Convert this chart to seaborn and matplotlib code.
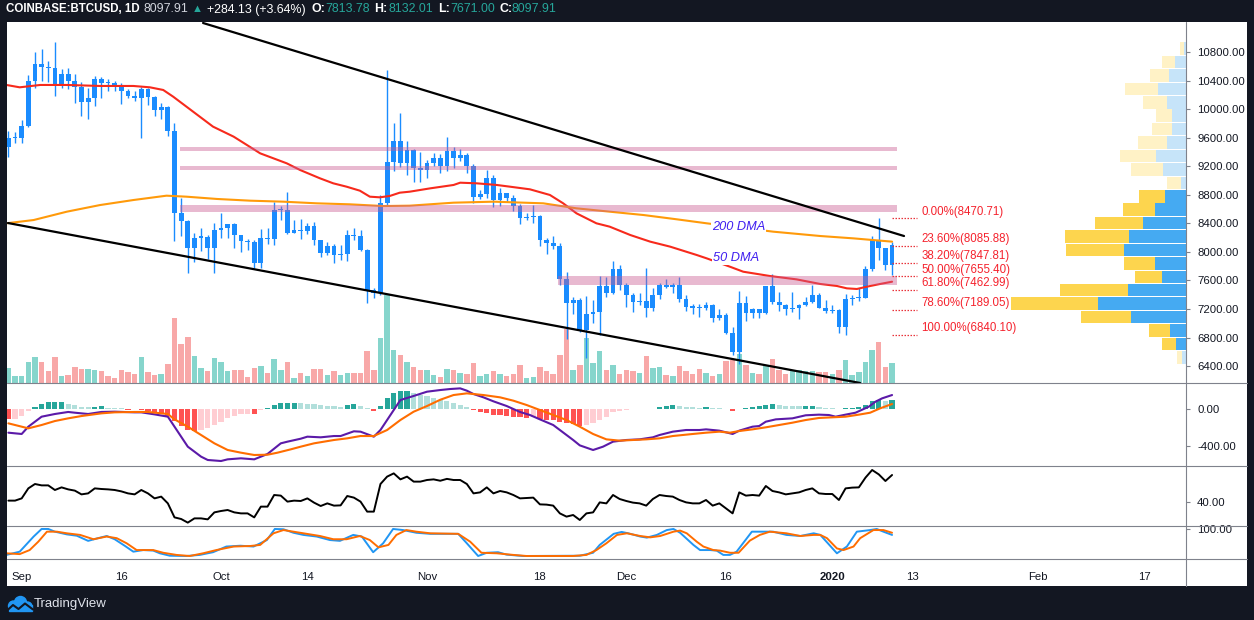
import numpy as np
import pandas as pd
import matplotlib
matplotlib.use('Agg')
import matplotlib.pyplot as plt
import seaborn as sns
from matplotlib.lines import Line2D
from matplotlib.patches import Rectangle, Circle

sns.set_style('white')
plt.rcParams['font.family'] = ['Liberation Sans', 'DejaVu Sans']

# ---------------- data ----------------
dates = pd.date_range('2019-08-30', '2020-01-10', freq='D')
ref = pd.Timestamp('2019-09-01')

opens = [9470, 9590, 9600, 9770, 10390, 10630, 10590, 10580, 10320, 10490,
         10400, 10310, 10100, 10160, 10420, 10370, 10360, 10310, 10260, 10190,
         10160, 10280, 10170, 9990, 10030, 9700, 8540, 8430, 8060, 8200,
         8210, 8050, 8300, 8330, 8390, 8230, 8150, 8140, 7850, 8200,
         8180, 8590, 8590, 8270, 8300, 8290, 8360, 8160, 7990, 8080,
         7950, 7970, 8230, 8220, 8020, 7470, 7420, 8680, 9260, 9550,
         9240, 9430, 9180, 9150, 9250, 9310, 9200, 9410, 9320, 9350,
         9200, 8770, 8810, 9030, 8720, 8820, 8760, 8640, 8470, 8490,
         8500, 8170, 8120, 8080, 7620, 7280, 7330, 6900, 7130, 7160,
         7520, 7420, 7760, 7540, 7400, 7300, 7310, 7210, 7400, 7540,
         7510, 7530, 7340, 7230, 7220, 7210, 7260, 7070, 7110, 6870,
         6600, 7280, 7150, 7200, 7150, 7520, 7300, 7260, 7200, 7210,
         7250, 7300, 7390, 7220, 7170, 7180, 6950, 7340, 7350, 7360,
         7760, 8160, 8050, 7813.78]
highs = [9700, 9680, 9850, 10480, 10800, 10840, 10670, 10940, 10560, 10570,
         10490, 10380, 10290, 10460, 10450, 10420, 10390, 10360, 10280, 10250,
         10310, 10300, 10180, 10090, 10050, 9800, 8750, 8450, 8270, 8340,
         8230, 8400, 8540, 8390, 8400, 8240, 8180, 8170, 8320, 8330,
         8700, 8640, 8840, 8440, 8460, 8400, 8420, 8170, 8140, 8110,
         8100, 8300, 8330, 8310, 8040, 7500, 8800, 10550, 9800, 9940,
         9560, 9440, 9400, 9290, 9380, 9370, 9610, 9470, 9440, 9380,
         9230, 8860, 9140, 9070, 8890, 8830, 8790, 8670, 8540, 8650,
         8510, 8200, 8220, 8130, 7720, 7370, 7350, 7380, 7330, 7660,
         7650, 7870, 7820, 7560, 7420, 7420, 7770, 7490, 7560, 7620,
         7570, 7650, 7400, 7270, 7270, 7300, 7270, 7200, 7150, 6950,
         7450, 7380, 7220, 7200, 7520, 7690, 7440, 7270, 7440, 7270,
         7370, 7530, 7420, 7320, 7260, 7200, 7410, 7400, 7500, 7800,
         8220, 8470, 8060, 8132.01]
lows = [9330, 9520, 9520, 9750, 10300, 10400, 10380, 10180, 10300, 10280,
        10080, 9910, 9860, 10050, 10160, 10250, 10260, 10070, 10150, 10120,
        9600, 10060, 9910, 9860, 9620, 8150, 8220, 7710, 7860, 8010,
        7900, 7700, 8200, 8190, 8060, 8000, 8020, 7780, 7770, 8110,
        8100, 8450, 8250, 8260, 8180, 8250, 8100, 7930, 7950, 7850,
        7880, 7870, 8170, 8010, 7290, 7360, 7390, 8650, 9130, 9190,
        9080, 8980, 8980, 9030, 9200, 9100, 9130, 9180, 9270, 9100,
        8680, 8740, 8760, 8630, 8640, 8700, 8570, 8390, 8440, 8400,
        8080, 7970, 8040, 7540, 6780, 7130, 6880, 6520, 7010, 6840,
        7370, 7410, 7460, 7230, 7160, 7250, 7090, 7170, 7340, 7490,
        7420, 7300, 7170, 7130, 7090, 7180, 7020, 7040, 6850, 6560,
        6430, 7030, 7080, 7080, 7130, 7270, 7170, 7120, 7160, 7060,
        7240, 7290, 7210, 7150, 7150, 6870, 6840, 7260, 7310, 7350,
        7730, 7890, 7740, 7671.00]
closes = [9590, 9600, 9770, 10390, 10630, 10590, 10580, 10320, 10490, 10400,
          10310, 10100, 10160, 10420, 10370, 10360, 10310, 10260, 10190, 10160,
          10280, 10170, 9990, 10030, 9700, 8540, 8430, 8060, 8200, 8210,
          8050, 8300, 8330, 8390, 8230, 8150, 8140, 7850, 8200, 8180,
          8590, 8590, 8270, 8300, 8290, 8360, 8160, 7990, 8080, 7950,
          7970, 8230, 8220, 8020, 7470, 7420, 8680, 9260, 9550, 9240,
          9430, 9180, 9150, 9250, 9310, 9200, 9410, 9320, 9350, 9200,
          8770, 8810, 9030, 8720, 8820, 8760, 8640, 8470, 8490, 8500,
          8170, 8120, 8080, 7620, 7280, 7330, 6900, 7130, 7160, 7520,
          7420, 7760, 7540, 7400, 7300, 7310, 7210, 7400, 7540, 7510,
          7530, 7340, 7230, 7220, 7210, 7260, 7070, 7110, 6870, 6600,
          7280, 7150, 7200, 7150, 7520, 7300, 7260, 7200, 7210, 7250,
          7300, 7390, 7220, 7170, 7180, 6950, 7340, 7350, 7360, 7760,
          8160, 8050, 7810, 8097.91]
# volume bar heights (relative units)
volume = [15, 7, 7, 21, 26, 21, 12, 26, 7, 8,
          16, 14, 14, 13, 12, 7, 5, 13, 11, 9,
          26, 11, 8, 9, 19, 65, 39, 46, 27, 15,
          12, 25, 21, 12, 13, 13, 6, 15, 17, 10,
          24, 13, 21, 5, 10, 7, 14, 14, 8, 12,
          8, 10, 10, 10, 32, 13, 45, 88, 33, 28,
          21, 16, 13, 13, 8, 6, 14, 13, 10, 9,
          20, 7, 9, 12, 9, 7, 9, 18, 5, 6,
          16, 12, 9, 28, 54, 13, 18, 45, 20, 32,
          13, 18, 9, 13, 12, 10, 27, 15, 16, 8,
          7, 17, 12, 9, 14, 10, 7, 9, 22, 23,
          29, 18, 10, 9, 17, 24, 13, 9, 13, 13,
          12, 12, 11, 11, 9, 13, 23, 8, 11, 21,
          33, 41, 16, 20]

# moving averages (day offset from Sep 1, value)
ma50_day = [-2.3, -0.3, 2.8, 6.8, 11.8, 16.8, 19.3, 21.3, 22.8, 24.8,
            26.8, 28.8, 31.9, 33.9, 35.9, 37.9, 39.9, 41.9, 44.9, 46.9,
            48.9, 50.9, 52.4, 53.9, 55.4, 56.9, 58.4, 61.5, 65.0, 66.0,
            68.5, 71.5, 73.5, 76.5, 79.5, 81.5, 83.5, 86.5, 88.5, 91.6,
            94.6, 97.6, 101.6, 103.1, 106.6, 108.6, 112.6, 116.6, 120.2, 122.7,
            124.2, 125.7, 127.2, 129.2, 131.0]
ma50 = [10338, 10305, 10338, 10338, 10324, 10324, 10305, 10268, 10174, 10034,
        9894, 9754, 9614, 9497, 9380, 9310, 9240, 9147, 9030, 8960,
        8913, 8857, 8773, 8764, 8783, 8829, 8843, 8890, 8937, 8969,
        8960, 8937, 8913, 8876, 8797, 8680, 8540, 8400, 8353, 8236,
        8143, 8073, 7956, 7909, 7792, 7722, 7662, 7615, 7550, 7522,
        7489, 7480, 7512, 7550, 7582]
ma200_day = [-2.3, 1.8, 6.8, 11.8, 16.8, 21.8, 24.8, 29.4, 34.4, 39.4,
             44.4, 49.4, 54.4, 58.4, 65.0, 71.0, 78.5, 83.5, 88.5, 93.6,
             98.6, 103.1, 113.1, 120.2, 125.2, 131.0]
ma200 = [8400, 8446, 8563, 8656, 8726, 8787, 8773, 8741, 8717, 8703,
         8680, 8666, 8642, 8647, 8689, 8703, 8680, 8610, 8563, 8516,
         8456, 8400, 8283, 8222, 8189, 8143]

# horizontal zones and trendlines
band_lo = [9413, 9147, 8558, 7536]
band_hi = [9469, 9203, 8656, 7662]
band_start = [23.8, 23.8, 23.8, 80.7]
band_end = 131.7
upper_tl = ([27.3, 132.8], [11206, 8222])
lower_tl = ([-2.06, 126.2], [8404, 6163])

# fibonacci retracement
fib_pct = ['0.00%', '23.60%', '38.20%', '50.00%', '61.80%', '78.60%', '100.00%']
fib_lvl = [8470.71, 8085.88, 7847.81, 7655.40, 7462.99, 7189.05, 6840.10]

# volume profile rows
prof_mid = [6523, 6711, 6899, 7087, 7275, 7463, 7651, 7839, 8027, 8215, 8403, 8591,
            8779, 8967, 9155, 9343, 9531, 9719, 9907, 10095, 10283, 10471, 10659, 10847]
prof_up = [4, 10, 16, 55, 88, 58, 24, 31, 62, 57, 43, 31, 21, 5, 23, 30, 19, 14, 14, 19, 28, 17, 11, 2]
prof_down = [5, 14, 21, 50, 87, 68, 27, 31, 58, 64, 48, 32, 26, 14, 32, 36, 29, 20, 16, 24, 33, 19, 13, 4]
value_area = (1, 12)

# MACD
macd_day = [-2, 0, 1, 3, 5, 7, 8, 10, 12, 14, 17, 18, 20, 22, 23, 25, 27, 28, 30, 31,
            33, 35, 37, 39, 40, 42, 43, 45, 47, 48, 50, 51, 53, 54, 56, 57, 59, 61, 63, 64.5,
            66, 67, 68, 69.5, 71, 73, 75, 76.5, 78, 80, 82, 83, 84, 86, 87.5, 89, 91, 93, 95, 96,
            98, 100, 102, 103, 105, 107, 108, 110, 111, 112, 113.5, 116, 118, 120, 121.5, 122.5,
            124, 125.5, 127.5, 128.5, 129.5, 131]
macd = [-256, -270, -191, -83, -54, -32, -40, -54, -32, -29, -36, -36, -58, -83, -191, -407,
        -515, -551, -562, -544, -533, -544, -486, -371, -353, -321, -299, -306, -292, -292,
        -241, -245, -299, -227, -11, 97, 141, 187, 205, 216, 223, 198, 162, 126, 83, 32, -32,
        -65, -112, -173, -281, -335, -393, -443, -407, -353, -335, -328, -306, -281, -245,
        -227, -227, -220, -234, -270, -234, -191, -184, -137, -112, -101, -68, -61, -65, -83,
        -61, -40, 25, 79, 115, 151]
sig_day = [-2, 0, 1, 3, 5, 7, 9, 12, 14, 17, 19, 22, 23, 25, 27, 29, 31, 33, 35, 37,
           38.5, 40.5, 42, 44, 45.5, 47, 49, 51, 53, 55, 57, 59, 61, 63, 65, 67, 69.5, 72, 74, 76,
           78, 80, 82, 84, 86, 88, 90, 92, 94, 96, 98, 101, 103, 105, 106.6, 108, 110, 112, 114, 116,
           118, 120, 122, 124, 126, 127.7, 129.2, 131]
signal = [-155, -191, -209, -173, -130, -101, -76, -47, -36, -32, -32, -54, -112, -191, -281,
          -371, -443, -472, -497, -494, -472, -436, -407, -371, -353, -335, -317, -292, -292,
          -227, -119, -29, 32, 100, 151, 169, 151, 126, 90, 43, -11, -65, -119, -191, -270,
          -328, -342, -335, -328, -317, -292, -270, -256, -245, -256, -238, -220, -198, -173,
          -148, -119, -97, -90, -83, -61, -40, 7, 54]
hist = [-108, -105, -79, -25, 22, 58, 72, 74, 76, 58,
        43, 22, 18, 22, 29, 14, 12, 7, -7, -4,
        -7, -25, -36, -43, -72, -133, -187, -231, -240, -223,
        -205, -169, -144, -97, -72, -58, -50, -55, -14, 7,
        47, 65, 68, 70, 65, 58, 50, 43, 36, 29,
        27, 43, 50, 29, 7, -22, 36, 119, 173, 191,
        198, 173, 155, 137, 119, 101, 85, 60, 40, 20,
        -7, -36, -43, -61, -68, -76, -83, -90, -92, -90,
        -112, -114, -119, -137, -155, -162, -180, -175, -155, -119,
        -83, -36, -22, -8, -3, 2, 3, 5, 25, 32,
        43, 32, 25, 18, 16, 22, 14, 7, -2, -25,
        -3, 11, 18, 32, 43, 54, 43, 32, 30, 28,
        32, 36, 18, 11, 7, -2, 7, 11, 25, 43,
        90, 94, 90, 97]

# RSI
rsi = [41.1, 41.1, 42.9, 50.9, 54.4, 53.3, 53.3, 49.6, 51.7, 50.1,
       49.1, 46.1, 46.9, 50.9, 50.4, 50.1, 49.6, 48.5, 46.9, 46.1,
       49.6, 46.9, 42.9, 44.3, 38.9, 27.7, 26.4, 23.5, 26.9, 26.9,
       26.1, 31.7, 32.8, 33.6, 31.7, 30.9, 30.9, 27.7, 36.3, 36.3,
       45.6, 45.1, 40.3, 41.1, 40.8, 42.9, 39.5, 36.8, 38.9, 37.1,
       37.3, 44.8, 43.5, 40.3, 32.3, 32.3, 54.4, 60.3, 62.9, 58.1,
       60.3, 56.3, 56.3, 57.6, 58.1, 57.0, 58.5, 57.6, 57.6, 54.4,
       46.9, 47.7, 51.7, 46.9, 48.8, 47.7, 45.6, 42.9, 43.2, 43.5,
       38.1, 37.9, 37.1, 30.9, 28.3, 29.6, 25.6, 30.9, 31.7, 39.7,
       38.9, 45.6, 42.4, 40.8, 39.5, 38.9, 37.1, 42.4, 45.6, 44.8,
       44.3, 41.6, 39.7, 38.9, 38.9, 41.6, 37.1, 38.9, 34.9, 30.9,
       47.7, 45.1, 45.6, 45.1, 52.8, 48.8, 47.7, 46.1, 46.9, 47.7,
       49.6, 50.9, 46.9, 46.4, 46.4, 41.6, 50.9, 51.5, 51.7, 59.5,
       65.6, 62.1, 56.8, 61.6]

# Stochastic RSI
k_day = [-2.3, -0.3, 1.8, 3.0, 4.0, 5.0, 6.8, 8.3, 10.0, 11.5, 12.8, 14.0, 15.5, 16.8, 18.3,
         19.8, 20.8, 22.3, 24.8, 26.8, 28.8, 30.8, 32.9, 34.9, 36.9, 38.1, 39.4, 40.9, 42.4, 44.4,
         46.4, 47.9, 49.9, 51.2, 52.9, 54.4, 55.9, 57.4, 59.4, 61.5, 65.7, 67.0, 68.7, 70.0, 71.7,
         73.0, 75.5, 84.0, 86.0, 87.0, 89.1, 90.3, 91.3, 93.1, 94.1, 95.6, 97.1, 98.1, 99.1, 101.1,
         102.1, 103.6, 104.6, 105.6, 106.6, 107.6, 109.9, 113.1, 115.1, 117.2, 119.2, 120.2, 122.7,
         124.2, 125.7, 127.7, 128.7, 129.7, 131.0]
k_val = [4, 16, 72, 100, 100, 90, 80, 75, 56, 66, 74, 62, 38, 16, 22, 20, 10, 1, 0, 4,
         14, 35, 38, 35, 59, 100, 99, 86, 78, 72, 59, 56, 78, 72, 14, 47, 100, 96, 86, 82,
         82, 47, 0, 12, 14, 5, 0, 1, 12, 41, 82, 89, 84, 72, 68, 78, 96, 100, 86, 41,
         22, 22, 20, 4, 4, 16, 90, 90, 78, 74, 84, 78, 10, 35, 90, 96, 100, 90, 78]
d_day = [-2.3, -0.3, 1.2, 2.5, 3.8, 5.3, 6.8, 8.8, 10.8, 12.8, 14.3, 15.8, 17.3, 19.8, 21.3,
         23.3, 25.3, 27.3, 29.3, 31.9, 34.4, 35.9, 37.9, 39.4, 40.9, 42.9, 44.9, 46.9, 48.9, 50.9,
         52.4, 53.7, 55.2, 56.4, 57.9, 59.4, 61.5, 65.7, 67.5, 69.2, 71.5, 74.0, 76.0, 83.0, 85.0,
         86.5, 88.0, 89.6, 91.1, 93.1, 94.6, 96.1, 98.1, 99.1, 100.1, 101.6, 102.6, 104.1, 105.1,
         106.6, 107.9, 109.6, 111.1, 112.6, 115.1, 117.2, 119.2, 120.2, 121.2, 122.7, 123.7,
         125.2, 126.2, 128.2, 129.7, 131.0]
d_val = [10, 7, 22, 53, 90, 90, 84, 78, 62, 72, 66, 47, 22, 22, 12, 4, 0, 10, 22, 35,
         37, 41, 84, 96, 90, 82, 74, 62, 62, 74, 59, 32, 41, 78, 96, 90, 84, 82, 53, 12,
         10, 4, 0, 0, 4, 22, 47, 78, 84, 74, 69, 74, 90, 94, 84, 53, 35, 22, 20, 12,
         12, 57, 78, 90, 84, 74, 78, 78, 66, 28, 22, 35, 66, 96, 96, 86]

price_ticks = [6400, 6800, 7200, 7600, 8000, 8400, 8800, 9200, 9600, 10000, 10400, 10800]
tick_dates = ['2019-09-01', '2019-09-16', '2019-10-01', '2019-10-14', '2019-11-01', '2019-11-18',
              '2019-12-01', '2019-12-16', '2020-01-01', '2020-01-13', '2020-02-01', '2020-02-17']
tick_labels = ['Sep', '16', 'Oct', '14', 'Nov', '18', 'Dec', '16', '2020', '13', 'Feb', '17']

# ---------------- styling ----------------
BG = '#131722'
CANDLE = '#1a8cff'
UPVOL, DNVOL = '#86d5cc', '#f8a8a8'
GRAYLINE = '#7f828c'
TXT = '#131722'
W, H = 1254, 620
XL = (-2.21, 175.24)


def box(l, t, r, b):
    return [l / W, 1 - b / H, (r - l) / W, (b - t) / H]


def clean(a):
    for s in a.spines.values():
        s.set_visible(False)
    a.set_xlabel('')
    a.set_ylabel('')


def right_axis(a, ticks, labels):
    a.yaxis.tick_right()
    a.set_yticks(ticks)
    a.set_yticklabels(labels)
    a.tick_params(axis='y', length=3, width=0.8, color=GRAYLINE, pad=5,
                  labelsize=8.2, labelcolor=TXT)


x = np.asarray((dates - ref).days, dtype=float)
o, h, l, c = map(np.asarray, (opens, highs, lows, closes))

fig = plt.figure(figsize=(12.54, 6.2), dpi=100, facecolor=BG)
fig.add_artist(Rectangle((7 / W, 1 - 586 / H), 1240 / W, 564 / H, transform=fig.transFigure,
                         facecolor='white', edgecolor='none', zorder=-10))

# volume (behind price)
ax_vol = fig.add_axes(box(7, 22, 1186, 383))
ax_vol.bar(x, volume, width=0.82, color=[UPVOL if cc >= oo else DNVOL for oo, cc in zip(o, c)],
           linewidth=0)
ax_vol.set_xlim(XL)
ax_vol.set_ylim(0, 361)
ax_vol.axis('off')

# price panel
ax = fig.add_axes(box(7, 22, 1186, 383))
ax.patch.set_alpha(0)
ax.vlines(x, l, h, color=CANDLE, linewidth=1.0, zorder=3)
body = np.maximum(np.abs(c - o), 16)
ax.bar(x, body, bottom=np.minimum(o, c), width=0.72, color=CANDLE, linewidth=0, zorder=3)

sns.lineplot(x=ma50_day, y=ma50, ax=ax, color='#f72a1c', linewidth=1.5, zorder=4)
sns.lineplot(x=ma200_day, y=ma200, ax=ax, color='#ff9a0a', linewidth=1.5, zorder=4)

for lo, hi, s in zip(band_lo, band_hi, band_start):
    ax.add_patch(Rectangle((s, lo), band_end - s, hi - lo, facecolor='#c95a91',
                           alpha=0.42, edgecolor='none', zorder=5))

sns.lineplot(x=upper_tl[0], y=upper_tl[1], ax=ax, color='black', linewidth=1.6, zorder=6)
sns.lineplot(x=lower_tl[0], y=lower_tl[1], ax=ax, color='black', linewidth=1.6, zorder=6)

ax.hlines(fib_lvl, 131, 134.75, colors='#e8333a', linestyles=(0, (1.2, 1.2)), linewidth=0.9, zorder=6)
for p, v in zip(fib_pct, fib_lvl):
    ax.text(135.45, v + 10, f'{p}({v:.2f})', color='#f5222d', fontsize=8.3,
            ha='left', va='bottom', zorder=7)

ax.text(103.9, 8348, '200 DMA', color='#3f1ef0', fontsize=9.2, style='italic', ha='left',
        va='center', zorder=7, bbox=dict(facecolor='white', edgecolor='none', pad=0.8))
ax.text(104.0, 7914, '50 DMA', color='#3f1ef0', fontsize=9.2, style='italic', ha='left',
        va='center', zorder=7, bbox=dict(facecolor='white', edgecolor='none', pad=0.8))

ax.set_xlim(XL)
ax.set_ylim(6163, 11220)
right_axis(ax, price_ticks, [f'{t:.2f}' for t in price_ticks])
ax.set_xticks([])
clean(ax)

# volume profile on the right edge
ax_vp = fig.add_axes(box(7, 22, 1186, 383))
ax_vp.patch.set_alpha(0)
for i, (m, u, d) in enumerate(zip(prof_mid, prof_up, prof_down)):
    inside = value_area[0] <= i <= value_area[1]
    cu = '#45aaf2' if inside else '#c6e4f9'
    cd = '#fdd54e' if inside else '#fff2c6'
    ax_vp.barh(m, -u, height=175, color=cu, linewidth=0)
    ax_vp.barh(m, -d, left=-u, height=175, color=cd, linewidth=0)
ax_vp.set_xlim(-1179, 0)
ax_vp.set_ylim(6163, 11220)
ax_vp.axis('off')

# MACD panel
ax_m = fig.add_axes(box(7, 383, 1186, 466))
hcol = []
prev = 0
for v in hist:
    if v >= 0:
        hcol.append('#26a69a' if v > prev else '#b2dfdb')
    else:
        hcol.append('#ff5252' if v < prev else '#ffcdd2')
    prev = v
ax_m.bar(x, hist, width=0.78, color=hcol, linewidth=0)
sns.lineplot(x=macd_day, y=macd, ax=ax_m, color='#5b1aa8', linewidth=1.5)
sns.lineplot(x=sig_day, y=signal, ax=ax_m, color='#ff6d00', linewidth=1.5)
ax_m.set_xlim(XL)
ax_m.set_ylim(-616, 281)
right_axis(ax_m, [0, -400], ['0.00', '-400.00'])
ax_m.set_xticks([])
clean(ax_m)

# RSI panel
ax_r = fig.add_axes(box(7, 466, 1186, 526))
sns.lineplot(x=x, y=rsi, ax=ax_r, color='black', linewidth=1.4)
ax_r.set_xlim(XL)
ax_r.set_ylim(20.8, 68.8)
right_axis(ax_r, [40], ['40.00'])
ax_r.set_xticks([])
clean(ax_r)

# Stoch RSI panel
ax_s = fig.add_axes(box(7, 526, 1186, 559))
sns.lineplot(x=k_day, y=k_val, ax=ax_s, color='#2196f3', linewidth=1.4)
sns.lineplot(x=d_day, y=d_val, ax=ax_s, color='#ff6d00', linewidth=1.4)
ax_s.set_xlim(XL)
ax_s.set_ylim(-11.1, 111)
right_axis(ax_s, [100], ['100.00'])
tick_x = [(pd.Timestamp(t) - ref).days for t in tick_dates]
ax_s.set_xticks(tick_x)
ax_s.set_xticklabels(tick_labels)
ax_s.tick_params(axis='x', length=3, width=0.8, color=GRAYLINE, pad=6,
                 labelsize=8.2, labelcolor=TXT)
ax_s.get_xticklabels()[8].set_fontweight('bold')
clean(ax_s)

# panel separators
for yy in (383, 466, 526, 559):
    fig.add_artist(Line2D([7 / W, 1247 / W], [1 - yy / H] * 2, transform=fig.transFigure,
                          color=GRAYLINE, linewidth=0.8, zorder=5))
fig.add_artist(Line2D([1186 / W] * 2, [1 - 22 / H, 1 - 586 / H], transform=fig.transFigure,
                      color=GRAYLINE, linewidth=0.8, zorder=5))

# header
hy = 1 - 9.5 / H
parts = [(6, 'COINBASE:BTCUSD, 1D', 'white', 'bold', 8.3),
         (144, '8097.91', '#d1d4dc', 'normal', 8.9),
         (192, '\u25b2', '#26a69a', 'normal', 8.0),
         (207, '+284.13 (+3.64%)', 'white', 'normal', 8.9),
         (311, 'O:', 'white', 'bold', 8.9),
         (325, '7813.78', '#26a69a', 'normal', 8.9),
         (374, 'H:', 'white', 'bold', 8.9),
         (388, '8132.01', '#26a69a', 'normal', 8.9),
         (438, 'L:', 'white', 'bold', 8.9),
         (450, '7671.00', '#26a69a', 'normal', 8.9),
         (499, 'C:', 'white', 'bold', 8.9),
         (512, '8097.91', '#26a69a', 'normal', 8.9)]
for px, s, col, wt, fs in parts:
    fig.text(px / W, hy, s, color=col, fontweight=wt, fontsize=fs, ha='left', va='center')

# TradingView logo
ax_l = fig.add_axes(box(0, 588, 130, 620))
ax_l.set_xlim(0, 130)
ax_l.set_ylim(620, 588)
ax_l.axis('off')
for cx, cy, r in [(13.5, 606, 5.0), (20.5, 602.5, 6.0), (27.5, 606.5, 4.5)]:
    ax_l.add_patch(Circle((cx, cy), r, color='#2196f3'))
ax_l.add_patch(Rectangle((8.5, 605), 23.5, 6, color='#2196f3'))
ax_l.plot([6, 13, 18.5, 25, 33], [611.5, 605, 609, 603.5, 609.5], color=BG, linewidth=1.5)
fig.text(34 / W, 1 - 604 / H, 'TradingView', color='#e0e3eb', fontsize=9.5, ha='left', va='center')

fig.savefig('out.png', dpi=100, facecolor=BG)
